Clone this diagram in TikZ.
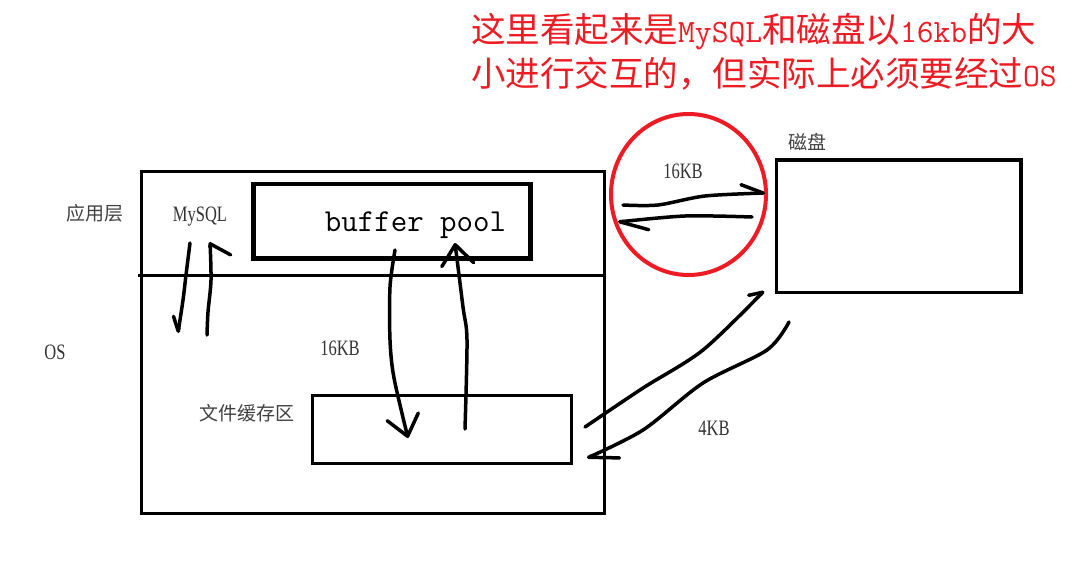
\documentclass[tikz,border=0pt]{standalone}
\usepackage{fontspec}
\usetikzlibrary{arrows.meta, shapes.geometric}
\newfontfamily\cjk{Noto Sans CJK SC}
\newfontfamily\latin{Liberation Serif}[FakeStretch=0.75]
\definecolor{paintred}{HTML}{ED1C24}
\newcommand\redlatin[1]{{\ttfamily\fontsize{32.6}{44}\selectfont #1}}

\begin{document}
\begin{tikzpicture}[
        x=1pt, y=-1pt,
        box/.style={draw, line width=3pt, inner sep=0pt},
        tag/.style={text=black!75, inner sep=0pt, font=\cjk\fontsize{19}{22}\selectfont},
        size/.style={text=black!80, inner sep=0pt, font=\latin\fontsize{22}{24}\selectfont},
        hand/.style={line width=3.5pt, line cap=round, line join=round},
        bothbarbs/.style={-{Straight Barb[round, length=20pt, width=32pt]}}
    ]
    \useasboundingbox (0,0) rectangle (1075,562);

    % boxes
    \node[box, minimum width=463pt, minimum height=342pt] (os) at (373,342.5) {};
    \coordinate (layerL) at (138,275);
    \draw[line width=3pt] (layerL) -- (layerL -| os.east);
    \node[box, line width=4.5pt, minimum width=277pt, minimum height=74.5pt] (pool) at (392,221.25) {};
    \node[inner sep=0pt, font=\ttfamily\fontsize{32}{34}\selectfont] (pooltext) at (415.5,225) {buffer pool};
    \node[box, minimum width=259.5pt, minimum height=67.5pt] (cache) at (441.75,429.25) {};
    \node[box, line width=3.5pt, minimum width=244.5pt, minimum height=132.5pt] (disk) at (898.75,226.25) {};
    \node[draw=paintred, line width=4pt, ellipse, minimum width=155pt, minimum height=161pt, inner sep=0pt] (ring) at (688.5,194.5) {};

    % labels
    \node[tag] (applayer) at (95,213) {应用层};
    \node[size] (oslabel) at (55,352) {OS};
    \node[size] (mysql) at (200,217) {MySQL};
    \node[size] (midsize) at (340,348) {16KB};
    \node[tag] (cachelabel) at (247,413) {文件缓存区};
    \node[tag] (disklabel) at (807,142) {磁盘};
    \node[size] (ringsize) at (683,171) {16KB};
    \node[size] (pagesize) at (714,428) {4KB};
    \node[text=paintred, inner sep=0pt, anchor=north west, align=left,
        font=\cjk\fontsize{34.5}{44}\selectfont] (note) at (471,13)
        {这里看起来是\redlatin{MySQL}和磁盘以\redlatin{16kb}的大\\
         小进行交互的，但实际上必须要经过\redlatin{OS}};

    % MySQL <-> OS
    \coordinate (sqlDownA) at (190,243);
    \coordinate (sqlDownB) at (178,333);
    \coordinate (sqlUpA) at (207,335);
    \coordinate (sqlUpB) at (210,242);
    \draw[hand, -{Straight Barb[right, round, length=14pt, width=14pt]}]
        plot[smooth] coordinates {(sqlDownA) (186,275) (183,300) (sqlDownB)};
    \draw[hand, -{Straight Barb[right, round, length=12pt, width=40pt]}]
        plot[smooth] coordinates {(sqlUpA) (208,312) (211,280) (sqlUpB)};

    % buffer pool <-> file cache
    \coordinate (poolOut) at (395,250);
    \coordinate (cacheIn) at (408,438);
    \coordinate (cacheOut) at (465,429);
    \coordinate (poolIn) at (455,243);
    \draw[hand, bothbarbs]
        plot[smooth] coordinates {(poolOut) (390,287) (390,340) (394,378) (cacheIn)};
    \draw[hand, bothbarbs]
        plot[smooth] coordinates {(cacheOut) (467,340) (463,307) (poolIn)};

    % inside the red ring
    \coordinate (ringA) at (623,205);
    \coordinate (diskIn) at (765,193);
    \coordinate (diskOut) at (752,217);
    \coordinate (ringB) at (618,222);
    \draw[hand, -{Straight Barb[left, round, length=22pt, width=18pt]}]
        plot[smooth] coordinates {(ringA) (658,205) (705,196) (diskIn)};
    \draw[hand, -{Straight Barb[left, round, length=28pt, width=22pt]}]
        plot[smooth] coordinates {(diskOut) (685,216) (ringB)};

    % file cache <-> disk
    \coordinate (cacheUp) at (585,427);
    \coordinate (diskLow) at (764,291);
    \coordinate (diskBack) at (789,322);
    \coordinate (cacheBack) at (587,458);
    \draw[hand, -{Straight Barb[left, round, length=12pt, width=16pt]}]
        plot[smooth] coordinates {(cacheUp) (643,388) (703,350) (diskLow)};
    \draw[hand, -{Straight Barb[left, round, length=28pt, width=26pt]}]
        plot[smooth] coordinates {(diskBack) (767,350) (703,383) (643,430) (cacheBack)};
\end{tikzpicture}
\end{document}
